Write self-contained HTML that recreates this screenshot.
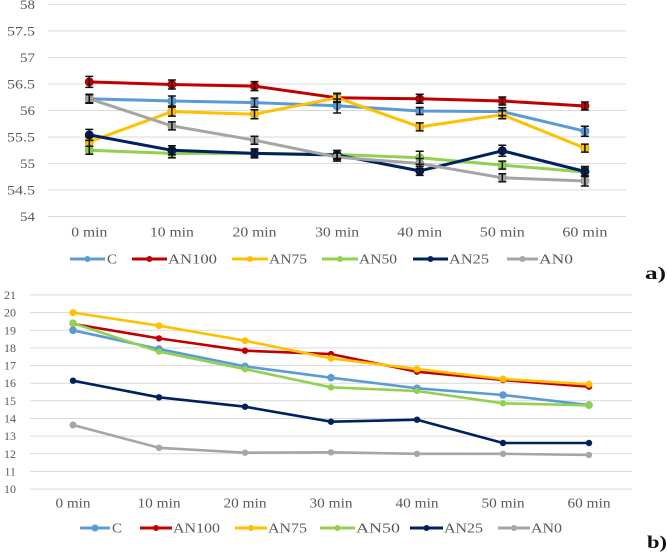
<!DOCTYPE html>
<html><head><meta charset="utf-8"><style>
html,body{margin:0;padding:0;background:#fff;}
svg{display:block;}
svg text{font-family:'Liberation Serif','Times New Roman',serif;fill:#595959;}
</style></head><body>
<svg width="667" height="552" viewBox="0 0 667 552" xmlns="http://www.w3.org/2000/svg" font-family="'Liberation Serif', 'Times New Roman', serif">
<rect width="667" height="552" fill="#fff"/>
<!-- Chart a gridlines -->
<g stroke="#d9d9d9" stroke-width="1">
<line x1="48" x2="626" y1="4.5" y2="4.5"/>
<line x1="48" x2="626" y1="31" y2="31"/>
<line x1="48" x2="626" y1="57.5" y2="57.5"/>
<line x1="48" x2="626" y1="84" y2="84"/>
<line x1="48" x2="626" y1="110.5" y2="110.5"/>
<line x1="48" x2="626" y1="137" y2="137"/>
<line x1="48" x2="626" y1="163.5" y2="163.5"/>
<line x1="48" x2="626" y1="190" y2="190"/>
<line x1="48" x2="626" y1="216.5" y2="216.5"/>
</g>
<g font-family="Liberation Serif, serif" font-size="13" text-anchor="end" fill="#595959">
<text x="35" y="9" textLength="15" lengthAdjust="spacingAndGlyphs">58</text>
<text x="35" y="35.5" textLength="28" lengthAdjust="spacingAndGlyphs">57.5</text>
<text x="35" y="62" textLength="15" lengthAdjust="spacingAndGlyphs">57</text>
<text x="35" y="88.5" textLength="28" lengthAdjust="spacingAndGlyphs">56.5</text>
<text x="35" y="115" textLength="15" lengthAdjust="spacingAndGlyphs">56</text>
<text x="35" y="141.5" textLength="28" lengthAdjust="spacingAndGlyphs">55.5</text>
<text x="35" y="168" textLength="15" lengthAdjust="spacingAndGlyphs">55</text>
<text x="35" y="194.5" textLength="28" lengthAdjust="spacingAndGlyphs">54.5</text>
<text x="35" y="221" textLength="15" lengthAdjust="spacingAndGlyphs">54</text>
</g>
<g font-family="Liberation Serif, serif" font-size="13.5" text-anchor="middle" fill="#595959">
<text x="89.3" y="236.5" textLength="36" lengthAdjust="spacingAndGlyphs">0 min</text>
<text x="171.9" y="236.5" textLength="44" lengthAdjust="spacingAndGlyphs">10 min</text>
<text x="254.5" y="236.5" textLength="44" lengthAdjust="spacingAndGlyphs">20 min</text>
<text x="337.1" y="236.5" textLength="44" lengthAdjust="spacingAndGlyphs">30 min</text>
<text x="419.7" y="236.5" textLength="45" lengthAdjust="spacingAndGlyphs">40 min</text>
<text x="502.3" y="236.5" textLength="45" lengthAdjust="spacingAndGlyphs">50 min</text>
<text x="584.9" y="236.5" textLength="45" lengthAdjust="spacingAndGlyphs">60 min</text>
</g>
<!-- Chart a series -->
<g fill="none" stroke-width="3" stroke-linejoin="round">
<polyline stroke="#5B9BD5" points="89.3,98.8 171.9,101 254.5,102.6 337.1,105.7 419.7,111 502.3,111.6 584.9,131.2"/>
<polyline stroke="#C00000" points="89.3,81.9 171.9,84.5 254.5,86.1 337.1,97.8 419.7,98.8 502.3,101 584.9,106"/>
<polyline stroke="#FFC000" points="89.3,141.8 171.9,111.6 254.5,114.2 337.1,97.8 419.7,126.9 502.3,114.7 584.9,148.1"/>
<polyline stroke="#92D050" points="89.3,150.3 171.9,153.4 254.5,153.4 337.1,154.5 419.7,157.7 502.3,165.1 584.9,172"/>
<polyline stroke="#002060" points="89.3,134.9 171.9,150.3 254.5,153.4 337.1,155 419.7,170.9 502.3,150.8 584.9,171.5"/>
<polyline stroke="#A5A5A5" points="89.3,98.8 171.9,125.9 254.5,140.2 337.1,157.1 419.7,163.5 502.3,177.8 584.9,181"/>
</g>
<!-- markers a -->
<g stroke-width="1">
<g fill="#5B9BD5" stroke="#4a8ac4">
<circle cx="89.3" cy="98.8" r="4"/><circle cx="171.9" cy="101" r="4"/><circle cx="254.5" cy="102.6" r="4"/><circle cx="337.1" cy="105.7" r="4"/><circle cx="419.7" cy="111" r="4"/><circle cx="502.3" cy="111.6" r="4"/><circle cx="584.9" cy="131.2" r="4"/>
</g>
<g fill="#C00000" stroke="#a00000">
<circle cx="89.3" cy="81.9" r="4"/><circle cx="171.9" cy="84.5" r="4"/><circle cx="254.5" cy="86.1" r="4"/><circle cx="337.1" cy="97.8" r="4"/><circle cx="419.7" cy="98.8" r="4"/><circle cx="502.3" cy="101" r="4"/><circle cx="584.9" cy="106" r="4"/>
</g>
<g fill="#FFC000" stroke="#e0a800">
<circle cx="89.3" cy="141.8" r="4"/><circle cx="171.9" cy="111.6" r="4"/><circle cx="254.5" cy="114.2" r="4"/><circle cx="337.1" cy="97.8" r="4"/><circle cx="419.7" cy="126.9" r="4"/><circle cx="502.3" cy="114.7" r="4"/><circle cx="584.9" cy="148.1" r="4"/>
</g>
<g fill="#92D050" stroke="#7fbf3d">
<circle cx="89.3" cy="150.3" r="4"/><circle cx="171.9" cy="153.4" r="4"/><circle cx="254.5" cy="153.4" r="4"/><circle cx="337.1" cy="154.5" r="4"/><circle cx="419.7" cy="157.7" r="4"/><circle cx="502.3" cy="165.1" r="4"/><circle cx="584.9" cy="172" r="4"/>
</g>
<g fill="#002060" stroke="#001545">
<circle cx="89.3" cy="134.9" r="4"/><circle cx="171.9" cy="150.3" r="4"/><circle cx="254.5" cy="153.4" r="4"/><circle cx="337.1" cy="155" r="4"/><circle cx="419.7" cy="170.9" r="4"/><circle cx="502.3" cy="150.8" r="4"/><circle cx="584.9" cy="171.5" r="4"/>
</g>
<g fill="#A5A5A5" stroke="#949494">
<circle cx="89.3" cy="98.8" r="4"/><circle cx="171.9" cy="125.9" r="4"/><circle cx="254.5" cy="140.2" r="4"/><circle cx="337.1" cy="157.1" r="4"/><circle cx="419.7" cy="163.5" r="4"/><circle cx="502.3" cy="177.8" r="4"/><circle cx="584.9" cy="181" r="4"/>
</g>
</g>
<!-- error bars a -->
<g stroke="#111" stroke-width="1.5" fill="none">
<path d="M89.3,94.8V102.8M85.3,94.8H93.3M85.3,102.8H93.3 M171.9,96V106M167.9,96H175.9M167.9,106H175.9 M254.5,98.1V107.1M250.5,98.1H258.5M250.5,107.1H258.5 M337.1,99V113M333.1,99H341.1M333.1,113H341.1 M419.7,107.5V114.5M415.7,107.5H423.7M415.7,114.5H423.7 M502.3,107.6V115.6M498.3,107.6H506.3M498.3,115.6H506.3 M584.9,126.2V136.2M580.9,126.2H588.9M580.9,136.2H588.9"/>
<path d="M89.3,76.4V87.4M85.3,76.4H93.3M85.3,87.4H93.3 M171.9,80V89M167.9,80H175.9M167.9,89H175.9 M254.5,81.6V90.6M250.5,81.6H258.5M250.5,90.6H258.5 M337.1,93.8V101.8M333.1,93.8H341.1M333.1,101.8H341.1 M419.7,94.3V103.3M415.7,94.3H423.7M415.7,103.3H423.7 M502.3,97V105M498.3,97H506.3M498.3,105H506.3 M584.9,102V110M580.9,102H588.9M580.9,110H588.9"/>
<path d="M89.3,137.3V146.3M85.3,137.3H93.3M85.3,146.3H93.3 M171.9,107.1V116.1M167.9,107.1H175.9M167.9,116.1H175.9 M254.5,109.7V118.7M250.5,109.7H258.5M250.5,118.7H258.5 M337.1,93.3V102.3M333.1,93.3H341.1M333.1,102.3H341.1 M419.7,122.9V130.9M415.7,122.9H423.7M415.7,130.9H423.7 M502.3,110.7V118.7M498.3,110.7H506.3M498.3,118.7H506.3 M584.9,144.1V152.1M580.9,144.1H588.9M580.9,152.1H588.9"/>
<path d="M89.3,146.3V154.3M85.3,146.3H93.3M85.3,154.3H93.3 M171.9,148.9V157.9M167.9,148.9H175.9M167.9,157.9H175.9 M254.5,149.4V157.4M250.5,149.4H258.5M250.5,157.4H258.5 M337.1,150.5V158.5M333.1,150.5H341.1M333.1,158.5H341.1 M419.7,151.2V164.2M415.7,151.2H423.7M415.7,164.2H423.7 M502.3,161.1V169.1M498.3,161.1H506.3M498.3,169.1H506.3 M584.9,168V176M580.9,168H588.9M580.9,176H588.9"/>
<path d="M89.3,129.4V140.4M85.3,129.4H93.3M85.3,140.4H93.3 M171.9,145.8V154.8M167.9,145.8H175.9M167.9,154.8H175.9 M254.5,148.9V157.9M250.5,148.9H258.5M250.5,157.9H258.5 M337.1,150.5V159.5M333.1,150.5H341.1M333.1,159.5H341.1 M419.7,166.4V175.4M415.7,166.4H423.7M415.7,175.4H423.7 M502.3,145.3V156.3M498.3,145.3H506.3M498.3,156.3H506.3 M584.9,166.5V176.5M580.9,166.5H588.9M580.9,176.5H588.9"/>
<path d="M89.3,94.3V103.3M85.3,94.3H93.3M85.3,103.3H93.3 M171.9,121.9V129.9M167.9,121.9H175.9M167.9,129.9H175.9 M254.5,136.2V144.2M250.5,136.2H258.5M250.5,144.2H258.5 M337.1,153.1V161.1M333.1,153.1H341.1M333.1,161.1H341.1 M419.7,158.5V168.5M415.7,158.5H423.7M415.7,168.5H423.7 M502.3,173.8V181.8M498.3,173.8H506.3M498.3,181.8H506.3 M584.9,176V186M580.9,176H588.9M580.9,186H588.9"/>
</g>
<!-- legend a -->
<g stroke-width="3">
<line x1="70" x2="105" y1="259" y2="259" stroke="#5B9BD5"/><circle cx="87.5" cy="259" r="3" fill="#5B9BD5" stroke="none"/>
<line x1="132" x2="167" y1="259" y2="259" stroke="#C00000"/><circle cx="149.5" cy="259" r="3" fill="#C00000" stroke="none"/>
<line x1="232" x2="268" y1="259" y2="259" stroke="#FFC000"/><circle cx="250" cy="259" r="3" fill="#FFC000" stroke="none"/>
<line x1="322" x2="358" y1="259" y2="259" stroke="#92D050"/><circle cx="340" cy="259" r="3" fill="#92D050" stroke="none"/>
<line x1="413" x2="448" y1="259" y2="259" stroke="#002060"/><circle cx="430.5" cy="259" r="3" fill="#002060" stroke="none"/>
<line x1="507" x2="538" y1="259" y2="259" stroke="#A5A5A5"/><circle cx="522.5" cy="259" r="3" fill="#A5A5A5" stroke="none"/>
</g>
<g font-family="Liberation Serif, serif" font-size="13.5" fill="#595959">
<text x="107" y="263.5" textLength="10" lengthAdjust="spacingAndGlyphs">C</text>
<text x="168" y="263.5" textLength="49" lengthAdjust="spacingAndGlyphs">AN100</text>
<text x="269" y="263.5" textLength="38" lengthAdjust="spacingAndGlyphs">AN75</text>
<text x="359" y="263.5" textLength="38" lengthAdjust="spacingAndGlyphs">AN50</text>
<text x="449" y="263.5" textLength="40" lengthAdjust="spacingAndGlyphs">AN25</text>
<text x="539" y="263.5" textLength="34" lengthAdjust="spacingAndGlyphs">AN0</text>
</g>
<text x="645" y="279" font-family="Liberation Serif, serif" font-size="18" font-weight="bold" style="fill:#111" textLength="21" lengthAdjust="spacingAndGlyphs">a)</text>

<!-- Chart b gridlines -->
<g stroke="#d9d9d9" stroke-width="1">
<line x1="30" x2="632" y1="295" y2="295"/>
<line x1="30" x2="632" y1="312.6" y2="312.6"/>
<line x1="30" x2="632" y1="330.3" y2="330.3"/>
<line x1="30" x2="632" y1="347.9" y2="347.9"/>
<line x1="30" x2="632" y1="365.6" y2="365.6"/>
<line x1="30" x2="632" y1="383.2" y2="383.2"/>
<line x1="30" x2="632" y1="400.8" y2="400.8"/>
<line x1="30" x2="632" y1="418.5" y2="418.5"/>
<line x1="30" x2="632" y1="436.1" y2="436.1"/>
<line x1="30" x2="632" y1="453.8" y2="453.8"/>
<line x1="30" x2="632" y1="471.4" y2="471.4"/>
<line x1="30" x2="632" y1="489" y2="489"/>
</g>
<g font-family="Liberation Serif, serif" font-size="12" text-anchor="end" fill="#595959">
<text x="16" y="299">21</text>
<text x="16" y="316.6">20</text>
<text x="16" y="334.3">19</text>
<text x="16" y="351.9">18</text>
<text x="16" y="369.6">17</text>
<text x="16" y="387.2">16</text>
<text x="16" y="404.8">15</text>
<text x="16" y="422.5">14</text>
<text x="16" y="440.1">13</text>
<text x="16" y="457.8">12</text>
<text x="16" y="475.4">11</text>
<text x="16" y="493">10</text>
</g>
<g font-family="Liberation Serif, serif" font-size="13.5" text-anchor="middle" fill="#595959">
<text x="73" y="507.5" textLength="35" lengthAdjust="spacingAndGlyphs">0 min</text>
<text x="159" y="507.5" textLength="43" lengthAdjust="spacingAndGlyphs">10 min</text>
<text x="245" y="507.5" textLength="43" lengthAdjust="spacingAndGlyphs">20 min</text>
<text x="331" y="507.5" textLength="43" lengthAdjust="spacingAndGlyphs">30 min</text>
<text x="417" y="507.5" textLength="43" lengthAdjust="spacingAndGlyphs">40 min</text>
<text x="503" y="507.5" textLength="43" lengthAdjust="spacingAndGlyphs">50 min</text>
<text x="589" y="507.5" textLength="43" lengthAdjust="spacingAndGlyphs">60 min</text>
</g>
<g fill="none" stroke-width="2.6" stroke-linejoin="round">
<polyline stroke="#5B9BD5" points="73,330.3 159,349 245,366.4 331,377.7 417,388.3 503,395 589,405.1"/>
<polyline stroke="#C00000" points="73,323.9 159,338.4 245,350.7 331,354.1 417,371.7 503,380 589,386.7"/>
<polyline stroke="#FFC000" points="73,312.6 159,325.7 245,340.7 331,358.3 417,369.1 503,379 589,384.3"/>
<polyline stroke="#92D050" points="73,323.2 159,351.6 245,369.1 331,387.3 417,391 503,403.3 589,405.3"/>
<polyline stroke="#002060" points="73,380.7 159,397.3 245,406.7 331,421.7 417,419.7 503,443 589,443"/>
<polyline stroke="#A5A5A5" points="73,425 159,447.8 245,452.7 331,452.3 417,453.8 503,453.8 589,455"/>
</g>
<g stroke="none">
<g fill="#5B9BD5"><circle cx="73" cy="330.3" r="3.8"/><circle cx="159" cy="349" r="3.8"/><circle cx="245" cy="366.4" r="3.8"/><circle cx="331" cy="377.7" r="3.8"/><circle cx="417" cy="388.3" r="3.8"/><circle cx="503" cy="395" r="3.8"/><circle cx="589" cy="405.1" r="3.8"/></g>
<g fill="#C00000"><circle cx="73" cy="323.9" r="3.2"/><circle cx="159" cy="338.4" r="3.2"/><circle cx="245" cy="350.7" r="3.2"/><circle cx="331" cy="354.1" r="3.2"/><circle cx="417" cy="371.7" r="3.2"/><circle cx="503" cy="380" r="3.2"/><circle cx="589" cy="386.7" r="3.2"/></g>
<g fill="#FFC000"><circle cx="73" cy="312.6" r="3.5"/><circle cx="159" cy="325.7" r="3.5"/><circle cx="245" cy="340.7" r="3.5"/><circle cx="331" cy="358.3" r="3.5"/><circle cx="417" cy="369.1" r="3.5"/><circle cx="503" cy="379" r="3.5"/><circle cx="589" cy="384.3" r="3.5"/></g>
<g fill="#92D050"><circle cx="73" cy="323.2" r="3.8"/><circle cx="159" cy="351.6" r="3.2"/><circle cx="245" cy="369.1" r="3.2"/><circle cx="331" cy="387.3" r="3.2"/><circle cx="417" cy="391" r="3.2"/><circle cx="503" cy="403.3" r="3.2"/><circle cx="589" cy="405.3" r="3.8"/></g>
<g fill="#002060"><circle cx="73" cy="380.7" r="3.2"/><circle cx="159" cy="397.3" r="3.2"/><circle cx="245" cy="406.7" r="3.2"/><circle cx="331" cy="421.7" r="3.2"/><circle cx="417" cy="419.7" r="3.2"/><circle cx="503" cy="443" r="3.2"/><circle cx="589" cy="443" r="3.2"/></g>
<g fill="#A5A5A5"><circle cx="73" cy="425" r="3.5"/><circle cx="159" cy="447.8" r="3.2"/><circle cx="245" cy="452.7" r="3.2"/><circle cx="331" cy="452.3" r="3.2"/><circle cx="417" cy="453.8" r="3.2"/><circle cx="503" cy="453.8" r="3.2"/><circle cx="589" cy="455" r="3.2"/></g>
</g>
<!-- legend b -->
<g stroke-width="3">
<line x1="80" x2="110" y1="528" y2="528" stroke="#5B9BD5"/><circle cx="95" cy="528" r="3.5" fill="#5B9BD5" stroke="none"/>
<line x1="140" x2="172" y1="528" y2="528" stroke="#C00000"/><circle cx="156" cy="528" r="3" fill="#C00000" stroke="none"/>
<line x1="235" x2="267" y1="528" y2="528" stroke="#FFC000"/><circle cx="251" cy="528" r="3" fill="#FFC000" stroke="none"/>
<line x1="320" x2="355" y1="528" y2="528" stroke="#92D050"/><circle cx="337.5" cy="528" r="3" fill="#92D050" stroke="none"/>
<line x1="410" x2="443" y1="528" y2="528" stroke="#002060"/><circle cx="426.5" cy="528" r="3" fill="#002060" stroke="none"/>
<line x1="498" x2="530" y1="528" y2="528" stroke="#A5A5A5"/><circle cx="514" cy="528" r="3" fill="#A5A5A5" stroke="none"/>
</g>
<g font-family="Liberation Serif, serif" font-size="13.5" fill="#595959">
<text x="112" y="532.5" textLength="10" lengthAdjust="spacingAndGlyphs">C</text>
<text x="173" y="532.5" textLength="47" lengthAdjust="spacingAndGlyphs">AN100</text>
<text x="268" y="532.5" textLength="39" lengthAdjust="spacingAndGlyphs">AN75</text>
<text x="356" y="532.5" textLength="44" lengthAdjust="spacingAndGlyphs">AN50</text>
<text x="444" y="532.5" textLength="39" lengthAdjust="spacingAndGlyphs">AN25</text>
<text x="531" y="532.5" textLength="31" lengthAdjust="spacingAndGlyphs">AN0</text>
</g>
<text x="647" y="548" font-family="Liberation Serif, serif" font-size="18" font-weight="bold" style="fill:#111" textLength="20" lengthAdjust="spacingAndGlyphs">b)</text>
</svg>
</body></html>
